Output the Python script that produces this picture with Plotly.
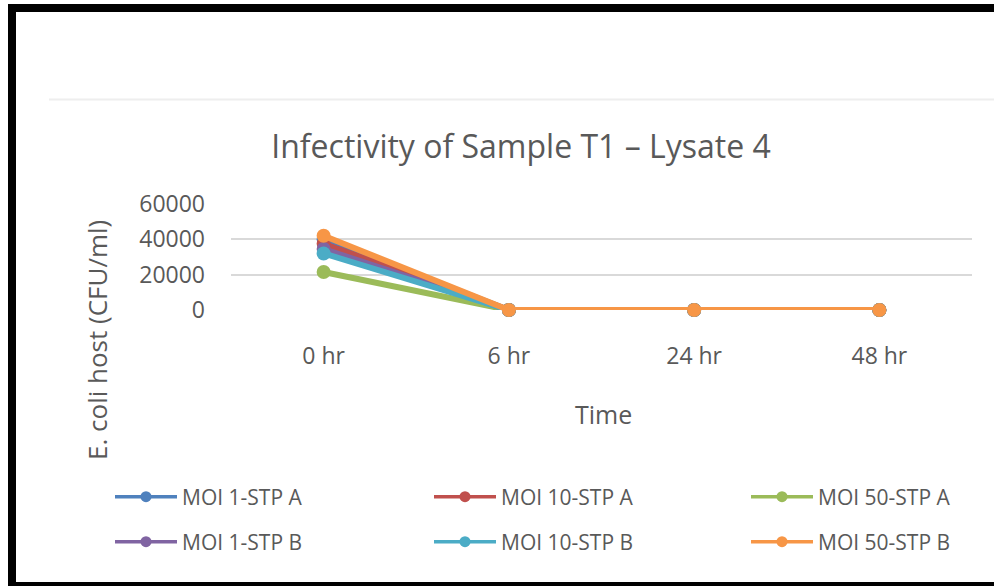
import plotly.graph_objects as go

times = ["0 hr", "6 hr", "24 hr", "48 hr"]
series_names = ["MOI 1-STP A", "MOI 10-STP A", "MOI 50-STP A",
                "MOI 1-STP B", "MOI 10-STP B", "MOI 50-STP B"]
moi1_a = [40000, 0, 0, 0]
moi10_a = [37500, 0, 0, 0]
moi50_a = [21500, 0, 0, 0]
moi1_b = [34500, 0, 0, 0]
moi10_b = [32000, 0, 0, 0]
moi50_b = [42000, 0, 0, 0]
y_ticks = [0, 20000, 40000, 60000]

series_values = [moi1_a, moi10_a, moi50_a, moi1_b, moi10_b, moi50_b]
colors = ["#4F81BD", "#C0504D", "#9BBB59", "#8064A2", "#4BACC6", "#F79646"]

W, H = 994, 586
L, R, T, B = 231, 22, 204, 276
PW = W - L - R
PH = H - T - B


def px(x):
    return (x - L) / PW


def py(y):
    return (H - B - y) / PH


TEXT = "#595959"
FONT = "Open Sans"

fig = go.Figure()
# plotted series
for name, vals, col in zip(series_names, series_values, colors):
    fig.add_trace(go.Scatter(
        x=times, y=vals, name=name, mode="lines+markers",
        line=dict(color=col, width=6),
        marker=dict(color=col, size=14),
        cliponaxis=False, showlegend=False, legendgroup=name,
    ))

# legend entries (one legend box per entry: 3 columns x 2 rows)
legend_ids = ["legend", "legend2", "legend3", "legend4", "legend5", "legend6"]
for name, col, lg in zip(series_names, colors, legend_ids):
    fig.add_trace(go.Scatter(
        x=[None], y=[None], name=name, mode="lines+markers",
        line=dict(color=col, width=3.5),
        marker=dict(color=col, size=11),
        showlegend=True, legend=lg, legendgroup=name,
    ))

shapes = [
    # light chart-area line
    dict(type="line", xref="paper", yref="paper", x0=px(49), x1=px(994),
         y0=py(99.5), y1=py(99.5), line=dict(color="#EEEEEE", width=2)),
    # black frame
    dict(type="rect", xref="paper", yref="paper", x0=px(8), x1=px(1000),
         y0=py(4), y1=py(12), fillcolor="black", line=dict(width=0)),
    dict(type="rect", xref="paper", yref="paper", x0=px(8), x1=px(16),
         y0=py(4), y1=py(590), fillcolor="black", line=dict(width=0)),
    dict(type="rect", xref="paper", yref="paper", x0=px(8), x1=px(1000),
         y0=py(582), y1=py(590), fillcolor="black", line=dict(width=0)),
]

annotations = [
    dict(text="E. coli host (CFU/ml)", xref="paper", yref="paper",
         x=px(97), y=py(340), textangle=-90, showarrow=False,
         xanchor="center", yanchor="middle",
         font=dict(family=FONT, size=26, color=TEXT)),
    dict(text="Time", xref="paper", yref="paper",
         x=px(603), y=py(414), showarrow=False,
         xanchor="center", yanchor="middle",
         font=dict(family=FONT, size=25, color=TEXT)),
]

legend_common = dict(
    orientation="h", xanchor="left", yanchor="middle",
    xref="container", yref="container",
    itemwidth=62,
    font=dict(family=FONT, size=21, color=TEXT),
    bgcolor="rgba(0,0,0,0)", borderwidth=0,
)
col_x = [110, 429, 746]
row_y = [497, 542]
legend_layout = {}
for i, lg in enumerate(legend_ids):
    legend_layout[lg] = dict(x=col_x[i % 3] / W, y=1 - row_y[i // 3] / H,
                             **legend_common)

fig.update_layout(
    width=W, height=H,
    margin=dict(l=L, r=R, t=T, b=B),
    paper_bgcolor="white", plot_bgcolor="white",
    title=dict(text="Infectivity of Sample T1 \u2013 Lysate 4",
               x=521 / W, xanchor="center", y=1 - 147 / H, yanchor="middle",
               font=dict(family=FONT, size=32, color=TEXT)),
    xaxis=dict(type="category", categoryorder="array", categoryarray=times,
               range=[-0.5, 3.5], showgrid=False, showline=False,
               zeroline=False, ticks="", ticklabelstandoff=30,
               tickfont=dict(family=FONT, size=23, color=TEXT)),
    yaxis=dict(range=[0, 60000], tickvals=y_ticks,
               ticktext=[str(v) for v in y_ticks],
               showgrid=True, gridcolor="#D9D9D9", gridwidth=2,
               zeroline=False, showline=False, ticks="",
               ticklabelstandoff=25,
               tickfont=dict(family=FONT, size=23, color=TEXT)),
    shapes=shapes,
    annotations=annotations,
    showlegend=True,
    **legend_layout,
)

fig.write_html("out.html")
